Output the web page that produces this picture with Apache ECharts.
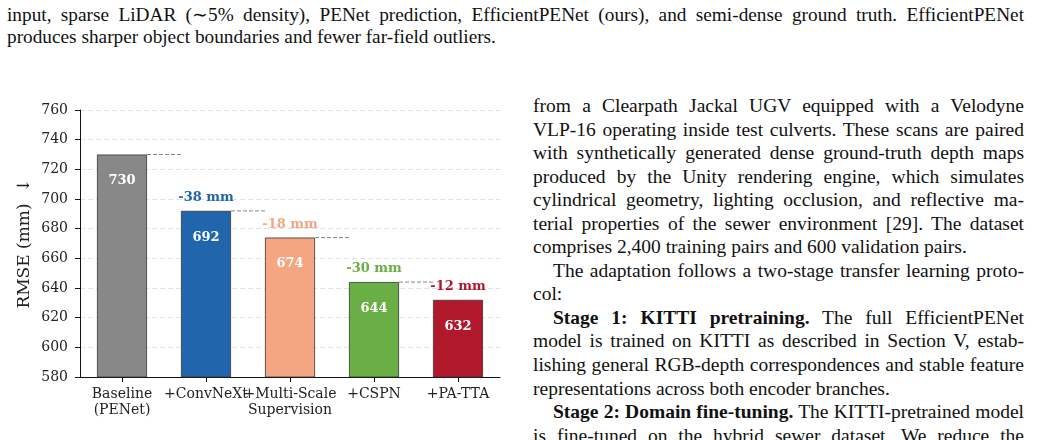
<!DOCTYPE html>
<html lang="en">
<head>
    <meta charset="UTF-8">
    <title>RMSE ablation</title>
    <style>
        body {
            margin: 0;
            width: 1041px;
            height: 440px;
            overflow: hidden;
            background: #fff;
            position: relative;
            font-family: "Liberation Serif", "Times New Roman", serif;
            color: #111;
        }

        #chart {
            position: absolute;
            left: 0;
            top: 0;
            width: 520px;
            height: 440px;
        }

        .caption {
            position: absolute;
            left: 7px;
            top: 4px;
            width: 1017px;
            font-size: 19.3px;
            line-height: 22px;
        }

        .column {
            position: absolute;
            left: 533px;
            top: 94px;
            width: 491px;
            font-size: 19.5px;
            line-height: 23.55px;
        }

        .ln {
            white-space: nowrap;
            text-align: justify;
            text-align-last: justify;
        }

        .ln.last {
            text-align-last: left;
        }

        .ln.ind {
            text-indent: 20px;
        }
    </style>
</head>
<body>

    <div class="caption">
        <div class="ln">input, sparse LiDAR (&sim;5% density), PENet prediction, EfficientPENet (ours), and semi-dense ground truth. EfficientPENet</div>
        <div class="ln last">produces sharper object boundaries and fewer far-field outliers.</div>
    </div>

    <div id="chart"></div>

    <div class="column">
        <div class="ln">from a Clearpath Jackal UGV equipped with a Velodyne</div>
        <div class="ln">VLP-16 operating inside test culverts. These scans are paired</div>
        <div class="ln">with synthetically generated dense ground-truth depth maps</div>
        <div class="ln">produced by the Unity rendering engine, which simulates</div>
        <div class="ln">cylindrical geometry, lighting occlusion, and reflective ma-</div>
        <div class="ln">terial properties of the sewer environment [29]. The dataset</div>
        <div class="ln last">comprises 2,400 training pairs and 600 validation pairs.</div>
        <div class="ln ind">The adaptation follows a two-stage transfer learning proto-</div>
        <div class="ln last">col:</div>
        <div class="ln ind"><b>Stage 1: KITTI pretraining.</b> The full EfficientPENet</div>
        <div class="ln">model is trained on KITTI as described in Section V, estab-</div>
        <div class="ln">lishing general RGB-depth correspondences and stable feature</div>
        <div class="ln last">representations across both encoder branches.</div>
        <div class="ln ind"><b>Stage 2: Domain fine-tuning.</b> The KITTI-pretrained model</div>
        <div class="ln">is fine-tuned on the hybrid sewer dataset. We reduce the</div>
    </div>

    <script src="https://cdn.jsdelivr.net/npm/echarts@6/dist/echarts.min.js"></script>
    <script>

        // ablation steps (x categories)
        const categories = ['Baseline\n(PENet)', '+ConvNeXt', '+Multi-Scale\nSupervision', '+CSPN', '+PA-TTA'];
        // RMSE in mm
        const rmse = [730, 692, 674, 644, 632];
        const barColors = ['#888888', '#2166ac', '#f4a582', '#6aaf46', '#b2182b'];
        // y ticks
        const yMin = 580;
        const yMax = 760;
        const yStep = 20;

        const serif = 'DejaVu Serif';
        const barWidth = 50;

        const chart = echarts.init(document.getElementById('chart'), null, { renderer: 'canvas' });

        const option = {
            animation: false,
            grid: {
                left: 80,
                right: 20,
                top: 110,
                bottom: 63,
            },
            xAxis: {
                type: 'category',
                data: categories,
                axisLine: {
                    show: true,
                    lineStyle: { color: '#111', width: 1 },
                },
                axisTick: {
                    show: true,
                    alignWithLabel: true,
                    length: 5,
                    lineStyle: { color: '#111' },
                },
                axisLabel: {
                    interval: 0,
                    margin: 9,
                    color: '#222',
                    fontFamily: serif,
                    fontSize: 14,
                    lineHeight: 16,
                },
            },
            yAxis: {
                type: 'value',
                min: yMin,
                max: yMax,
                interval: yStep,
                name: 'RMSE (mm)  \u2193',
                nameLocation: 'middle',
                nameGap: 47,
                nameMoveOverlap: false,
                nameRotate: 90,
                nameTextStyle: {
                    color: '#222',
                    fontFamily: serif,
                    fontSize: 17,
                },
                axisLine: {
                    show: true,
                    lineStyle: { color: '#111', width: 1 },
                },
                axisTick: {
                    show: true,
                    length: 5,
                    lineStyle: { color: '#111' },
                },
                axisLabel: {
                    margin: 12,
                    color: '#222',
                    fontFamily: serif,
                    fontSize: 14,
                },
                splitLine: {
                    lineStyle: {
                        type: [5, 3],
                        color: '#e3e3e3',
                        width: 1,
                    },
                },
            },
            series: [
                {
                    type: 'bar',
                    barWidth: barWidth,
                    data: rmse.map((v, i) => ({ value: v, itemStyle: { color: barColors[i] } })),
                    itemStyle: {
                        borderColor: '#333',
                        borderWidth: 0.8,
                    },
                    label: {
                        show: true,
                        position: 'insideTop',
                        distance: 20,
                        color: '#fff',
                        fontFamily: serif,
                        fontWeight: 'bold',
                        fontSize: 13,
                    },
                },
                {
                    // dashed step connectors and delta labels
                    type: 'custom',
                    z: 5,
                    data: rmse.map((v, i) => [i, v]),
                    renderItem: function (params, api) {
                        const i = api.value(0);
                        const v = api.value(1);
                        const top = api.coord([i, v]);
                        const children = [];
                        if (i < rmse.length - 1) {
                            const next = api.coord([i + 1, v]);
                            children.push({
                                type: 'line',
                                shape: {
                                    x1: top[0] + barWidth / 2,
                                    y1: top[1],
                                    x2: next[0] - barWidth / 2,
                                    y2: top[1],
                                },
                                style: {
                                    stroke: '#888',
                                    lineWidth: 1,
                                    lineDash: [4, 2],
                                },
                            });
                        }
                        if (i > 0) {
                            const d = rmse[i] - rmse[i - 1];
                            children.push({
                                type: 'text',
                                style: {
                                    text: d + ' mm',
                                    x: top[0],
                                    y: top[1] - 13,
                                    align: 'center',
                                    verticalAlign: 'middle',
                                    fill: barColors[i],
                                    fontFamily: serif,
                                    fontWeight: 'bold',
                                    fontSize: 13,
                                },
                            });
                        }
                        return { type: 'group', children: children };
                    },
                },
            ],
        };

        chart.setOption(option);

    </script>
</body>
</html>
